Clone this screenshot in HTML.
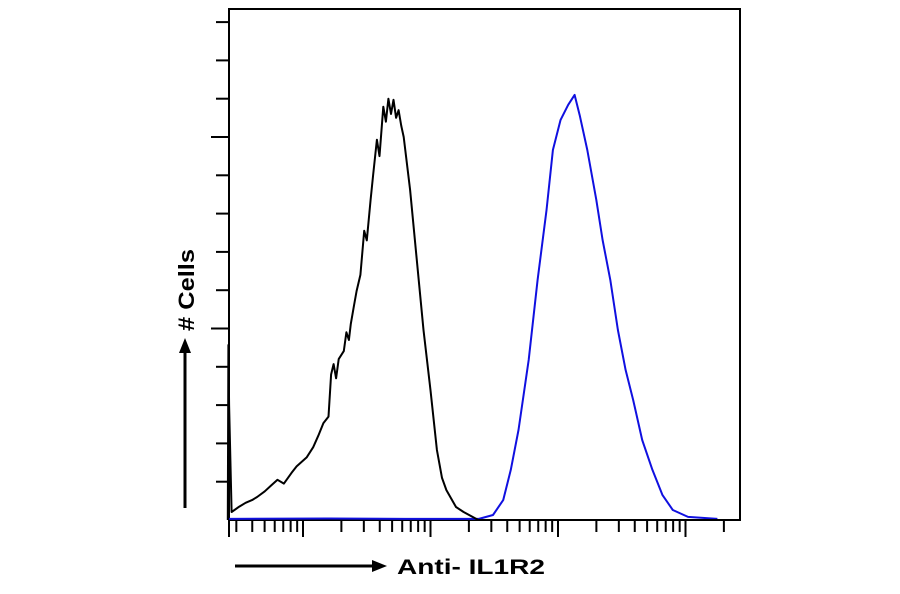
<!DOCTYPE html>
<html><head><meta charset="utf-8">
<style>
html,body{margin:0;padding:0;background:#fff;}
svg{display:block;}
text{font-family:"Liberation Sans",sans-serif;font-weight:bold;}
</style></head>
<body>
<svg id="chart" width="900" height="594" viewBox="0 0 900 594" xmlns="http://www.w3.org/2000/svg">
  <rect x="229" y="9" width="511" height="511" fill="none" stroke="#000" stroke-width="2"/>
  <g id="yticks"></g>
  <g id="xticks"></g>
  <g id="series"></g>
  <text x="0" y="0" font-size="22" textLength="82" lengthAdjust="spacingAndGlyphs" transform="translate(194,331) rotate(-90)">#&#160;Cells</text>
  <line x1="185" y1="508" x2="185" y2="352" stroke="#000" stroke-width="3"/>
  <polygon points="185,338 179,353 191,353" fill="#000"/>
  <line x1="235" y1="566" x2="372" y2="566" stroke="#000" stroke-width="3"/>
  <polygon points="387,566 372,560 372,572" fill="#000"/>
  <text x="397" y="574" font-size="21" textLength="148" lengthAdjust="spacingAndGlyphs">Anti- IL1R2</text>
</svg>
<script>
// log10 fluorescence positions and cell counts
const blackLog = [-0.59,-0.585,-0.58,-0.56,-0.50,-0.45,-0.40,-0.36,-0.30,-0.25,-0.20,-0.15,-0.09,-0.05,0.03,0.08,0.12,0.16,0.20,0.22,0.24,0.26,0.28,0.32,0.34,0.36,0.375,0.40,0.42,0.45,0.48,0.50,0.53,0.55,0.58,0.60,0.63,0.65,0.67,0.69,0.71,0.73,0.75,0.77,0.79,0.84,0.89,0.945,1.0,1.05,1.09,1.125,1.20,1.26,1.375,2.0,3.3];
const blackCount = [0,45.7,30,2.1,3.5,4.5,5.2,6.0,7.5,9.0,10.5,9.5,12.3,14,16.4,19,22,25.3,27,38,40.7,37,42,44.1,49,47,51.2,56,59.8,64,75.5,73,83.6,90,99.3,95,107.9,104,110,106,109.7,105,107.0,103,100.0,86.2,68.7,49.6,33.9,18.3,11,7.8,3.4,2.1,0,0,0];
const blueLog = [-0.58,0.2,0.8,1.38,1.49,1.57,1.63,1.69,1.77,1.84,1.91,1.96,2.02,2.08,2.13,2.17,2.23,2.30,2.35,2.41,2.47,2.53,2.59,2.66,2.74,2.82,2.90,3.02,3.25];
const blueCount = [0.3,0.4,0.3,0.3,1.3,5.2,13.1,23.5,41.8,62.7,80.9,96.6,104.4,108.4,111.0,105.7,96.6,83.6,73.1,62.7,49.6,39.2,31.3,20.9,13.1,6.5,2.6,0.8,0.3];
const yTickValues = [10,20,30,40,50,60,70,80,90,100,110,120,130];
const xDecades = [-1,0,1,2,3];

const NS = "http://www.w3.org/2000/svg";
const X0 = 303, DEC = 127.5, Y0 = 520, PER = 3.83;
function xScale(lx){ return X0 + lx*DEC; }
function yScale(c){ return Y0 - c*PER; }
function mk(tag, attrs, parent){
  const e = document.createElementNS(NS, tag);
  for (const k in attrs) e.setAttribute(k, attrs[k]);
  parent.appendChild(e); return e;
}
const yt = document.getElementById('yticks');
yTickValues.forEach(v => {
  const y = yScale(v);
  const long = (v % 50 === 0);
  const l = mk('line', {x1: long ? 211 : 216, x2: 229, y1: y, y2: y, stroke:'#000', 'stroke-width':2}, yt);
  
  
});
const xt = document.getElementById('xticks');
xDecades.forEach(d => {
  for (let m = 1; m <= 9; m++) {
    const x = xScale(d + Math.log10(m));
    if (x < 228 || x > 741) continue;
    const l = mk('line', {x1: x, x2: x, y1: 520, y2: m === 1 ? 537 : 532, stroke:'#000', 'stroke-width':2}, xt);
    
    
  }
});
const ax = mk('line', {x1: 229, x2: 229, y1: 520, y2: 537, stroke:'#000', 'stroke-width':2}, xt);



function path(lxs, cs){
  return lxs.map((v,i) => (i ? 'L' : 'M') + xScale(v).toFixed(1) + ',' + yScale(cs[i]).toFixed(1)).join(' ');
}
const sg = document.getElementById('series');
const pb = mk('path', {d: path(blueLog, blueCount), fill:'none', stroke:'#1010e0', 'stroke-width':2, 'stroke-linejoin':'round'}, sg);


const pk = mk('path', {d: path(blackLog, blackCount), fill:'none', stroke:'#000', 'stroke-width':2, 'stroke-linejoin':'round'}, sg);


</script>
</body></html>
